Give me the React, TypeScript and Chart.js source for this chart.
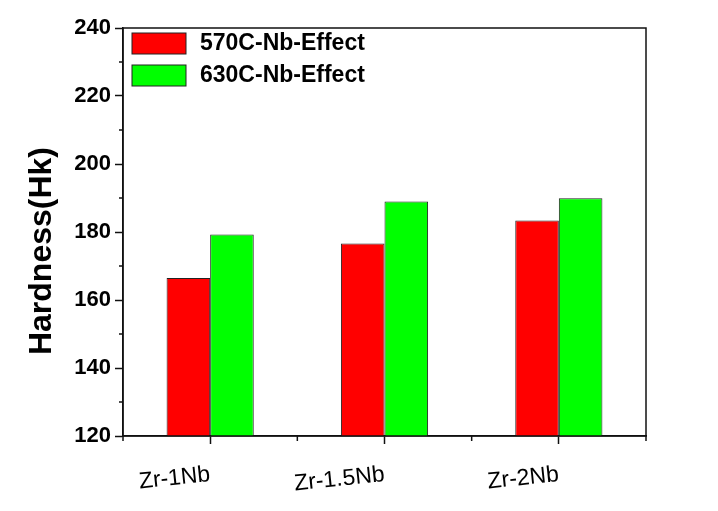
import React, { useEffect, useRef } from 'react';
import { Chart, registerables } from 'chart.js';

Chart.register(...registerables);

const categories = ['Zr-1Nb', 'Zr-1.5Nb', 'Zr-2Nb'];
const series570 = [166.5, 176.6, 183.4];
const series630 = [179.3, 189.0, 189.9];
const seriesNames = ['570C-Nb-Effect', '630C-Nb-Effect'];
const seriesColors = ['#FF0000', '#00FF00'];
const yMin = 120;
const yMax = 240;
const yStep = 20;
const yMinorTicks = [130, 150, 170, 190, 210, 230];
const yTitle = 'Hardness(Hk)';

const FONT = '"Liberation Sans", Arial, sans-serif';
const AXIS = '#111111';

const framePlugin = {
  id: 'framePlugin',
  afterDraw(chart: any) {
    const { ctx, chartArea: a, scales } = chart;
    ctx.save();
    ctx.strokeStyle = AXIS;
    ctx.lineWidth = 1.5;
    ctx.strokeRect(a.left, a.top, a.right - a.left, a.bottom - a.top);
    const line = (x1: number, y1: number, x2: number, y2: number) => {
      ctx.beginPath();
      ctx.moveTo(x1, y1);
      ctx.lineTo(x2, y2);
      ctx.stroke();
    };
    yMinorTicks.forEach((v) => {
      const y = scales.y.getPixelForValue(v);
      line(a.left - 4, y, a.left, y);
    });
    const xs = scales.x;
    const pts = [a.left, a.right];
    for (let i = 0; i < categories.length - 1; i++) {
      pts.push((xs.getPixelForValue(i) + xs.getPixelForValue(i + 1)) / 2);
    }
    pts.forEach((x) => line(x, a.bottom, x, a.bottom + 5));

    // legend
    ctx.font = `bold 23px ${FONT}`;
    ctx.textAlign = 'left';
    ctx.textBaseline = 'middle';
    chart.data.datasets.forEach((ds: any, i: number) => {
      const bx = a.left + 9;
      const by = a.top + 5 + i * 32;
      ctx.fillStyle = ds.backgroundColor;
      ctx.fillRect(bx, by, 54, 21);
      ctx.lineWidth = 1;
      ctx.strokeStyle = '#222';
      ctx.strokeRect(bx, by, 54, 21);
      ctx.fillStyle = '#000';
      ctx.fillText(ds.label, bx + 68, by + 11);
    });

    // y title
    ctx.translate(42, (a.top + a.bottom) / 2 + 19);
    ctx.rotate(-Math.PI / 2);
    ctx.font = `bold 32px ${FONT}`;
    ctx.textAlign = 'center';
    ctx.textBaseline = 'middle';
    ctx.fillStyle = '#000';
    ctx.fillText(yTitle, 0, 0);
    ctx.restore();
  },
};

export default function App() {
  const ref = useRef<HTMLCanvasElement | null>(null);
  useEffect(() => {
    if (!ref.current) return;
    const chart = new Chart(ref.current, {
      type: 'bar',
      data: {
        labels: categories,
        datasets: [
          {
            label: seriesNames[0],
            data: series570,
            backgroundColor: seriesColors[0],
            borderColor: '#222',
            borderWidth: 1,
            categoryPercentage: 0.5,
            barPercentage: 1,
          },
          {
            label: seriesNames[1],
            data: series630,
            backgroundColor: seriesColors[1],
            borderColor: '#222',
            borderWidth: 1,
            categoryPercentage: 0.5,
            barPercentage: 1,
          },
        ],
      },
      options: {
        responsive: false,
        animation: false,
        layout: { padding: { left: 0, right: 72, top: 28, bottom: 0 } },
        plugins: { legend: { display: false }, tooltip: { enabled: false } },
        scales: {
          x: {
            offset: true,
            grid: {
              offset: false,
              drawOnChartArea: false,
              tickLength: 8,
              tickColor: AXIS,
              tickWidth: 1.5,
            },
            border: { color: AXIS, width: 1.5 },
            ticks: {
              color: '#000',
              font: { family: FONT, size: 23 },
              minRotation: 6,
              maxRotation: 6,
              padding: 17,
            },
            afterFit(scale: any) {
              scale.height = 75;
            },
          },
          y: {
            min: yMin,
            max: yMax,
            grid: {
              drawOnChartArea: false,
              tickLength: 8,
              tickColor: AXIS,
              tickWidth: 1.5,
            },
            border: { color: AXIS, width: 1.5 },
            ticks: {
              stepSize: yStep,
              color: '#000',
              font: { family: FONT, size: 22, weight: 'bold' },
              padding: 4,
            },
            afterFit(scale: any) {
              scale.width = 123;
            },
          },
        },
      },
      plugins: [framePlugin],
    } as any);
    return () => chart.destroy();
  }, []);
  return (
    <div style={{ position: 'fixed', left: 0, top: 0, width: 718, height: 511, background: '#fff' }}>
      <canvas ref={ref} width={718} height={511} />
    </div>
  );
}
